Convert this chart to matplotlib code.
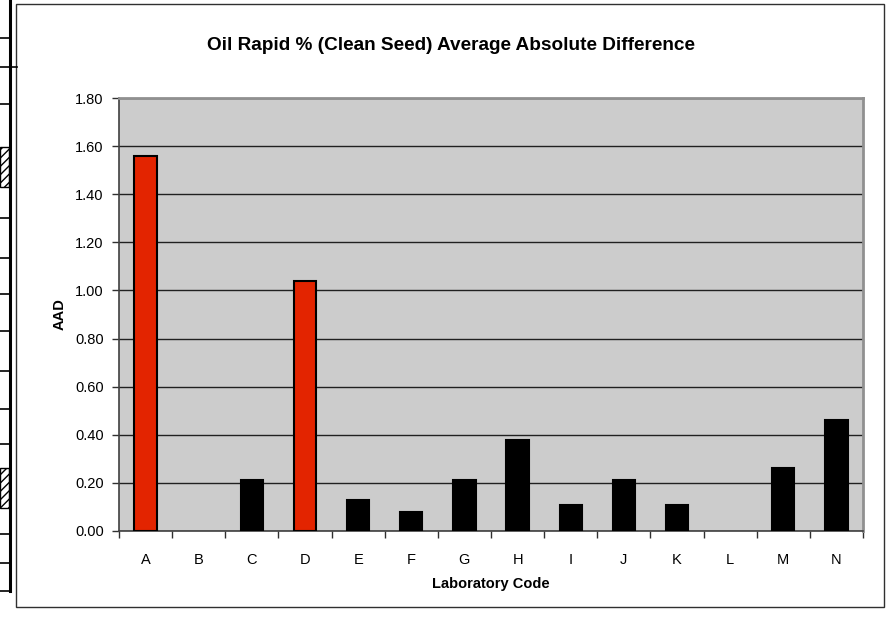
import numpy as np
import matplotlib
matplotlib.use('Agg')
import matplotlib.pyplot as plt
from matplotlib.lines import Line2D
from matplotlib.patches import Rectangle

plt.rcParams['font.family'] = ['Liberation Sans', 'DejaVu Sans']

# lab codes and their average absolute difference
labs = ['A', 'B', 'C', 'D', 'E', 'F', 'G', 'H', 'I', 'J', 'K', 'L', 'M', 'N']
aad = [1.56, 0.0, 0.21, 1.04, 0.13, 0.08, 0.21, 0.38, 0.11, 0.21, 0.11, 0.0, 0.26, 0.46]
# labs flagged in red
flagged = ['A', 'D']
y_ticks = [0.0, 0.2, 0.4, 0.6, 0.8, 1.0, 1.2, 1.4, 1.6, 1.8]

W, H = 890, 620
fig = plt.figure(figsize=(W / 100, H / 100), dpi=100)


def px(x, y):
    # pixel coords (top-left origin) -> figure fraction
    return x / W, 1 - y / H


# leftover spreadsheet grid at the left edge
fig.add_artist(Line2D([10 / W, 10 / W], [1, px(0, 591)[1]], color='black', lw=2.2))
for yy in [38, 104, 218, 258, 294, 331, 371, 409, 444, 534, 563, 591]:
    fig.add_artist(Line2D([0, 10 / W], [px(0, yy)[1]] * 2, color='black', lw=1.2))
fig.add_artist(Line2D([0, 17 / W], [px(0, 67)[1]] * 2, color='black', lw=1.2))
for top, bot in [(147, 187), (468, 508)]:
    fig.add_artist(Rectangle(px(0, bot), 9 / W, (bot - top) / H, facecolor='white',
                             edgecolor='black', hatch='////', lw=1.0))

# chart frame
frame = Rectangle(px(16, 607), (884 - 16) / W, (607 - 4) / H, facecolor='white',
                  edgecolor='#303030', lw=1.0, zorder=-5)
fig.add_artist(frame)

ax = fig.add_axes([119 / W, (H - 531) / H, 744 / W, 433 / H])
ax.set_zorder(5)
ax.set_facecolor('#CCCCCC')

x = np.arange(len(labs))
colors = ['#E32400' if lab in flagged else 'black' for lab in labs]
# no outline for empty bars
edges = [1.5 if v > 0 else 0 for v in aad]
ax.bar(x, aad, width=0.42, color=colors, edgecolor='black', linewidth=edges, zorder=3)

ax.set_xlim(-0.5, len(labs) - 0.5)
ax.set_ylim(0, 1.8)
ax.set_yticks(y_ticks)
ax.set_yticklabels([f'{v:.2f}' for v in y_ticks], fontsize=10.5)
ax.yaxis.grid(True, color='#202020', lw=1.0, zorder=1)
ax.set_axisbelow(True)

# ticks between categories, labels at centres
ax.set_xticks(np.arange(-0.5, len(labs), 1.0))
ax.set_xticklabels([])
ax.set_xticks(x, minor=True)
ax.set_xticklabels(labs, minor=True, fontsize=10.5)
ax.tick_params(axis='x', which='major', length=5, width=1, color='#303030', direction='out')
ax.tick_params(axis='x', which='minor', length=0, pad=16)
ax.tick_params(axis='y', length=5, width=1, color='#303030', pad=6)

for side in ['top', 'right']:
    ax.spines[side].set_color('#909090')
    ax.spines[side].set_linewidth(2)
ax.spines['left'].set_color('#404040')
ax.spines['bottom'].set_color('#404040')
ax.spines['left'].set_linewidth(1.2)
ax.spines['bottom'].set_linewidth(1.2)

ax.set_xlabel('Laboratory Code', fontsize=10.5, fontweight='bold', labelpad=7)
ax.set_ylabel('AAD', fontsize=10.5, fontweight='bold', labelpad=6)

fig.text(451 / W, 1 - 45 / H, 'Oil Rapid % (Clean Seed) Average Absolute Difference',
         ha='center', va='center', fontsize=13.7, fontweight='bold')

fig.savefig('out.png', dpi=100)
